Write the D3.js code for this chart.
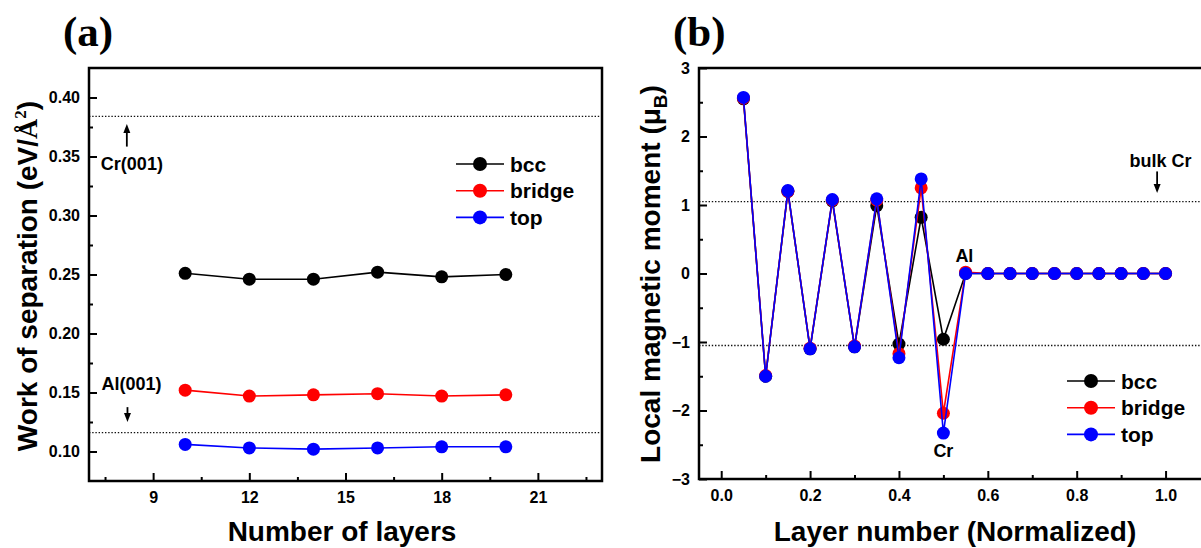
<!DOCTYPE html>
<html lang="en">
<head>
  <meta charset="UTF-8">
  <title>work of separation / magnetic moment</title>
  <script src="https://cdn.jsdelivr.net/npm/d3@7"></script>
  <style>
    html, body { margin: 0; padding: 0; background: #fff; }
    svg { display: block; font-family: Arial, "Liberation Sans", sans-serif; font-weight: bold; }
  </style>
</head>
<body>
<svg id="fig" width="1201" height="548"></svg>
<script>
  // (a) work of separation vs number of layers
  const layers = [10, 12, 14, 16, 18, 20];
  const wsBcc = [0.251, 0.246, 0.246, 0.252, 0.248, 0.250];
  const wsBridge = [0.152, 0.147, 0.148, 0.149, 0.147, 0.148];
  const wsTop = [0.106, 0.103, 0.102, 0.103, 0.104, 0.104];
  const wsRefs = [0.384, 0.116];           // Cr(001), Al(001)
  const layerTicks = [9, 12, 15, 18, 21];
  const layerMinor = [7.5, 10.5, 13.5, 16.5, 19.5, 22.5];
  const wsTicks = [0.10, 0.15, 0.20, 0.25, 0.30, 0.35, 0.40];
  const wsMinor = [0.125, 0.175, 0.225, 0.275, 0.325, 0.375];

  // (b) local magnetic moment vs normalized layer number
  const layerPos = [0.05, 0.10, 0.15, 0.20, 0.25, 0.30, 0.35, 0.40, 0.45, 0.50,
                    0.55, 0.60, 0.65, 0.70, 0.75, 0.80, 0.85, 0.90, 0.95, 1.00];
  const momBcc = [2.55, -1.50, 1.20, -1.10, 1.06, -1.07, 0.99, -1.03, 0.82, -0.96,
                  0, 0, 0, 0, 0, 0, 0, 0, 0, 0];
  const momBridge = [2.56, -1.49, 1.20, -1.09, 1.07, -1.06, 1.07, -1.17, 1.25, -2.04,
                     0.02, 0, 0, 0, 0, 0, 0, 0, 0, 0];
  const momTop = [2.57, -1.50, 1.21, -1.10, 1.08, -1.07, 1.09, -1.23, 1.38, -2.33,
                  0, 0, 0, 0, 0, 0, 0, 0, 0, 0];
  const bulkCr = [1.05, -1.05];
  const posTicks = [0.0, 0.2, 0.4, 0.6, 0.8, 1.0];
  const posMinor = [0.1, 0.3, 0.5, 0.7, 0.9];
  const momTicks = [-3, -2, -1, 0, 1, 2, 3];
  const momMinor = [-2.5, -1.5, -0.5, 0.5, 1.5, 2.5];

  const names = ['bcc', 'bridge', 'top'];
  const colors = ['#000000', '#ff0000', '#0000ff'];
  const serif = '"Liberation Serif", "Times New Roman", serif';

  const svg = d3.select('#fig');

  function styleAxis(sel, minor) {
    sel.select('.domain').remove();
    sel.selectAll('line').attr('stroke', '#000').attr('stroke-width', 2);
    sel.selectAll('text').attr('fill', '#000').style('font-size', '16px');
    if (minor) sel.selectAll('text').remove();
  }

  function frameAndAxes(g, x, y, xt, xm, yt, ym, fmtX, fmtY) {
    const [x0, x1] = x.range();
    const [y0, y1] = y.range();
    g.append('g').attr('transform', `translate(0,${y0})`)
      .call(d3.axisBottom(x).tickValues(xt).tickSize(-8).tickPadding(11).tickFormat(fmtX))
      .call(styleAxis);
    g.append('g').attr('transform', `translate(0,${y0})`)
      .call(d3.axisBottom(x).tickValues(xm).tickSize(-4).tickFormat(''))
      .call(s => styleAxis(s, true));
    g.append('g').attr('transform', `translate(${x0},0)`)
      .call(d3.axisLeft(y).tickValues(yt).tickSize(-8).tickPadding(9).tickFormat(fmtY))
      .call(styleAxis);
    g.append('g').attr('transform', `translate(${x0},0)`)
      .call(d3.axisLeft(y).tickValues(ym).tickSize(-4).tickFormat(''))
      .call(s => styleAxis(s, true));
    g.append('rect')
      .attr('x', x0).attr('y', y1)
      .attr('width', x1 - x0).attr('height', y0 - y1)
      .attr('fill', 'none').attr('stroke', '#000').attr('stroke-width', 2.5);
  }

  function refLines(g, x, y, values) {
    g.selectAll(null).data(values).join('line')
      .attr('x1', x.range()[0]).attr('x2', x.range()[1])
      .attr('y1', d => y(d)).attr('y2', d => y(d))
      .attr('stroke', '#111').attr('stroke-width', 1.4)
      .attr('stroke-dasharray', '1.4,1.8');
  }

  function series(g, x, y, xs, ys, color) {
    const line = d3.line().x((d, i) => x(xs[i])).y(d => y(d));
    g.append('path').datum(ys)
      .attr('d', line)
      .attr('fill', 'none').attr('stroke', color).attr('stroke-width', 1.6);
    g.selectAll(null).data(ys).join('circle')
      .attr('cx', (d, i) => x(xs[i])).attr('cy', d => y(d))
      .attr('r', 6.5).attr('fill', color);
  }

  function legend(g, x0, y0) {
    const row = g.selectAll(null).data(names).join('g')
      .attr('transform', (d, i) => `translate(${x0},${y0 + i * 26.7})`);
    row.append('line').attr('x1', 0).attr('x2', 48)
      .attr('stroke', (d, i) => colors[i]).attr('stroke-width', 1.6);
    row.append('circle').attr('cx', 24).attr('r', 7)
      .attr('fill', (d, i) => colors[i]);
    row.append('text').attr('x', 54).attr('dy', '0.36em')
      .style('font-size', '21px').text(d => d);
  }

  function arrow(g, px, pyFrom, pyTo) {
    const dir = pyTo > pyFrom ? 1 : -1;
    g.append('line').attr('x1', px).attr('x2', px)
      .attr('y1', pyFrom).attr('y2', pyTo - dir * 6)
      .attr('stroke', '#000').attr('stroke-width', 1.8);
    g.append('path')
      .attr('d', `M${px},${pyTo} L${px - 3.5},${pyTo - dir * 9} L${px + 3.5},${pyTo - dir * 9} Z`)
      .attr('fill', '#000');
  }

  function note(g, px, py, txt, anchor) {
    g.append('text').attr('x', px).attr('y', py)
      .attr('text-anchor', anchor || 'start')
      .style('font-size', '18px').text(txt);
  }

  {
    // panel (a)
    const x = d3.scaleLinear().domain([7, 23]).range([89, 602]);
    const y = d3.scaleLinear().domain([0.075, 0.425]).range([481, 68]);
    const g = svg.append('g');

    refLines(g, x, y, wsRefs);
    frameAndAxes(g, x, y, layerTicks, layerMinor, wsTicks, wsMinor,
      d3.format('d'), d3.format('.2f'));

    [wsBcc, wsBridge, wsTop].forEach((ys, i) => series(g, x, y, layers, ys, colors[i]));
    legend(g, 456, 164);

    note(g, x(7.37), y(0.3386), 'Cr(001)');
    arrow(g, x(8.18), y(0.3584), y(0.3775));
    note(g, x(7.39), y(0.1524), 'Al(001)');
    arrow(g, x(8.2), y(0.1376), y(0.1251));

    svg.append('text').attr('x', 63).attr('y', 46)
      .style('font-family', serif).style('font-size', '43px').text('(a)');

    svg.append('text').attr('x', 342).attr('y', 541)
      .attr('text-anchor', 'middle').style('font-size', '28px')
      .text('Number of layers');

    const t = svg.append('text')
      .attr('transform', 'translate(27,276) rotate(-90)')
      .attr('text-anchor', 'middle').attr('dy', '0.35em')
      .style('font-size', '28px');
    t.append('tspan').text('Work of separation (eV/');
    t.append('tspan').style('font-family', serif).text('Å');
    t.append('tspan').style('font-family', serif).style('font-size', '17px')
      .attr('dy', -11).text('2');
    t.append('tspan').attr('dy', 11).text(')');
  }

  {
    // panel (b)
    const x = d3.scaleLinear().domain([-0.05, 1.1]).range([699, 1210]);
    const y = d3.scaleLinear().domain([-3, 3]).range([479, 68]);
    const g = svg.append('g');

    refLines(g, x, y, bulkCr);
    frameAndAxes(g, x, y, posTicks, posMinor, momTicks, momMinor,
      d3.format('.1f'), d3.format('d'));

    [momBcc, momBridge, momTop].forEach((ys, i) => series(g, x, y, layerPos, ys, colors[i]));
    legend(g, 1067, 381);

    note(g, x(0.919), y(1.55), 'bulk Cr');
    arrow(g, x(0.981), y(1.49), y(1.175));
    note(g, x(0.527), y(0.175), 'Al');
    note(g, x(0.5), y(-2.68), 'Cr', 'middle');

    svg.append('text').attr('x', 673).attr('y', 46)
      .style('font-family', serif).style('font-size', '43px').text('(b)');

    svg.append('text').attr('x', 955).attr('y', 541)
      .attr('text-anchor', 'middle').style('font-size', '28px')
      .text('Layer number (Normalized)');

    const t = svg.append('text')
      .attr('transform', 'translate(650,274) rotate(-90)')
      .attr('text-anchor', 'middle').attr('dy', '0.35em')
      .style('font-size', '28px');
    t.append('tspan').text('Local magnetic moment (\u03bc');
    t.append('tspan').style('font-size', '19px').attr('dy', 7).text('B');
    t.append('tspan').attr('dy', -7).text(')');
  }
</script>
</body>
</html>
